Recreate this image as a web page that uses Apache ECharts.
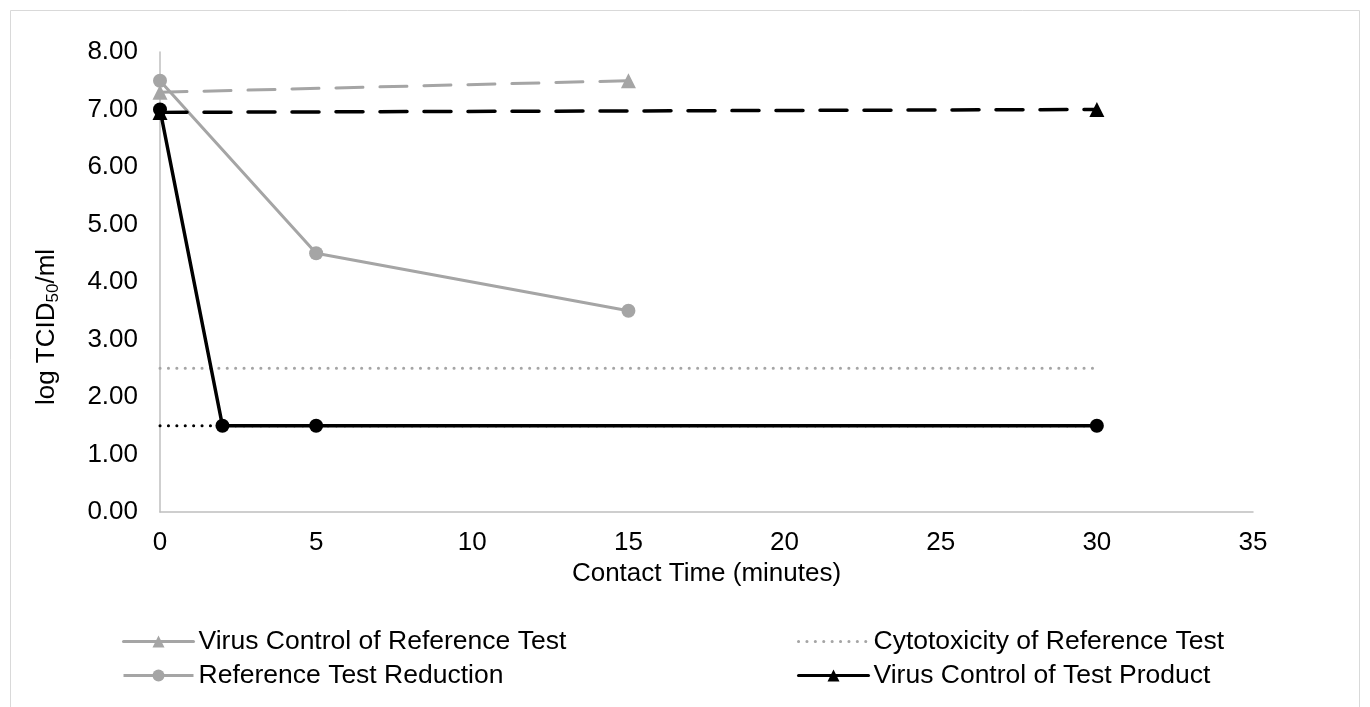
<!DOCTYPE html>
<html>
<head>
<meta charset="utf-8">
<script src="https://cdn.jsdelivr.net/npm/echarts@6/dist/echarts.min.js"></script>
<style>
html,body{margin:0;padding:0;background:#fff;}
#chart{width:1370px;height:707px;}
</style>
</head>
<body>
<div id="chart"></div>
<script>
// Data
const seriesNames = [
  'Virus Control of Reference Test',
  'Cytotoxicity of Reference Test',
  'Reference Test Reduction',
  'Virus Control of Test Product',
  'Cytotoxicity of Test Product',
  'Test Product Reduction'
];
const virusControlRef = [[0, 7.3], [15, 7.5]];
const cytotoxRef = [[0, 2.5], [30, 2.5]];
const refReduction = [[0, 7.5], [5, 4.5], [15, 3.5]];
const virusControlTest = [[0, 6.95], [30, 7.0]];
const cytotoxTest = [[0, 1.5], [30, 1.5]];
const testReduction = [[0, 7.0], [2, 1.5], [5, 1.5], [30, 1.5]];

const xMin = 0, xMax = 35, xInterval = 5;
const yMin = 0, yMax = 8, yInterval = 1;
const xTitle = 'Contact Time (minutes)';
const yTitle = 'log TCID{sub|50}/ml';

const GRAY = '#a5a5a5';
const BLACK = '#000000';
const FONT = 'Liberation Sans, Arial, sans-serif';
const FS = 26;

const chart = echarts.init(document.getElementById('chart'));

const dashed = [27, 17];
const dotted = [0.1, 8.3];

const legendText = {fontFamily: FONT, fontSize: 26.5, color: '#000'};

chart.setOption({
  animation: false,
  backgroundColor: '#fff',
  textStyle: {fontFamily: FONT},
  graphic: [{
    type: 'rect', silent: true, z: -10,
    shape: {x: 10.5, y: 10.5, width: 1349, height: 720},
    style: {fill: 'none', stroke: '#d9d9d9', lineWidth: 1}
  }, {
    type: 'text', silent: true,
    x: 47, y: 327, rotation: Math.PI / 2,
    style: {
      text: yTitle, fontFamily: FONT, fontSize: FS, fill: '#000',
      align: 'center', verticalAlign: 'middle',
      rich: {sub: {fontFamily: FONT, fontSize: 17, fill: '#000', padding: [12, 0, 0, 0]}}
    }
  }],
  grid: {left: 160, right: 117, top: 52, bottom: 195, containLabel: false},
  xAxis: {
    type: 'value', min: xMin, max: xMax, interval: xInterval,
    name: xTitle, nameLocation: 'middle', nameGap: 42,
    nameTextStyle: {fontFamily: FONT, fontSize: FS, color: '#000'},
    axisLine: {show: true, onZero: false, lineStyle: {color: '#bfbfbf', width: 1.5}},
    axisTick: {show: false},
    splitLine: {show: false},
    axisLabel: {fontFamily: FONT, fontSize: FS, color: '#000', margin: 18}
  },
  yAxis: {
    type: 'value', min: yMin, max: yMax, interval: yInterval,
    axisLine: {show: true, lineStyle: {color: '#bfbfbf', width: 1.5}},
    axisTick: {show: false},
    splitLine: {show: false},
    axisLabel: {fontFamily: FONT, fontSize: FS, color: '#000', margin: 22,
      formatter: v => v.toFixed(2)}
  },
  legend: [
    {
      orient: 'vertical', left: 117, top: 623, itemWidth: 70, itemHeight: 15, itemGap: 7,
      textStyle: legendText,
      data: [
        {name: seriesNames[0], lineStyle: {type: 'solid', width: 3}},
        {name: seriesNames[2], lineStyle: {width: 3}}
      ]
    },
    {
      orient: 'vertical', left: 792, top: 623, itemWidth: 70, itemHeight: 15, itemGap: 7,
      textStyle: legendText,
      data: [
        {name: seriesNames[1], lineStyle: {width: 3}, itemStyle: {color: 'rgba(0,0,0,0)', borderWidth: 0, opacity: 0}},
        {name: seriesNames[3], lineStyle: {type: 'solid', width: 3}}
      ]
    }
  ],
  series: [
    {
      name: seriesNames[0], type: 'line', data: virusControlRef,
      symbol: 'triangle', symbolSize: 15,
      itemStyle: {color: GRAY},
      lineStyle: {color: GRAY, width: 3, type: dashed, cap: 'round'}
    },
    {
      name: seriesNames[1], type: 'line', data: cytotoxRef,
      symbol: 'none',
      itemStyle: {color: GRAY},
      lineStyle: {color: GRAY, width: 3, type: dotted, cap: 'round'}
    },
    {
      name: seriesNames[2], type: 'line', data: refReduction,
      symbol: 'circle', symbolSize: 14,
      itemStyle: {color: GRAY},
      lineStyle: {color: GRAY, width: 3, type: 'solid'}
    },
    {
      name: seriesNames[3], type: 'line', data: virusControlTest,
      symbol: 'triangle', symbolSize: 15,
      itemStyle: {color: BLACK},
      lineStyle: {color: BLACK, width: 3.5, type: dashed, cap: 'round'}
    },
    {
      name: seriesNames[4], type: 'line', data: cytotoxTest,
      symbol: 'none',
      itemStyle: {color: BLACK},
      lineStyle: {color: BLACK, width: 3, type: dotted, cap: 'round'}
    },
    {
      name: seriesNames[5], type: 'line', data: testReduction,
      symbol: 'circle', symbolSize: 14,
      itemStyle: {color: BLACK},
      lineStyle: {color: BLACK, width: 3.5, type: 'solid'}
    }
  ]
});
</script>
</body>
</html>
